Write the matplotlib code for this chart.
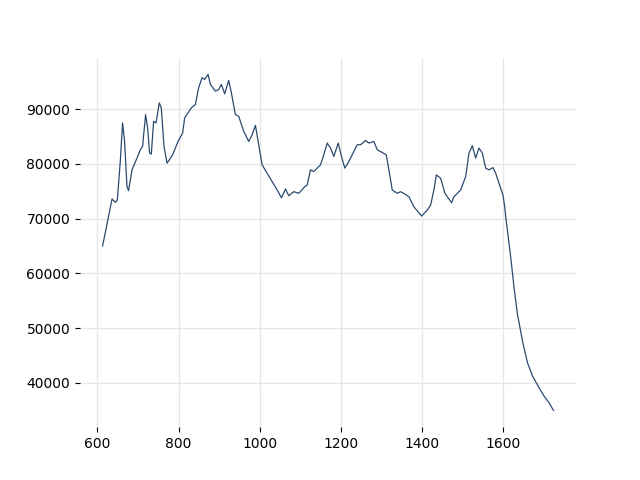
import matplotlib
matplotlib.use("Agg")
import matplotlib.pyplot as plt

wavelength = [612.6, 619, 636, 644, 649, 656.3, 661.9, 666.9, 672.8, 676.7,
              685.1, 697.4, 705.6, 711.2, 718.6, 723.6, 728.5, 732.7, 738.4, 744.3,
              752.4, 757.3, 764, 771.4, 777.1, 785.2, 798.5, 809.9, 814.8, 831.3,
              841.2, 849.3, 857.7, 864.1, 872.5, 878.2, 890.5, 898.6, 905.3, 913.4,
              923.3, 929.9, 939.8, 947.9, 960.3, 972.6, 981, 989.1, 995.8, 1005.6,
              1018, 1030.3, 1042.6, 1053.2, 1063.1, 1071.2, 1083.5, 1095.9, 1110.7, 1116.6,
              1124.7, 1132.8, 1149.4, 1157.5, 1165.9, 1174, 1182.2, 1193, 1201.1, 1209.3,
              1219.1, 1231.5, 1239.8, 1248, 1260.3, 1268.4, 1280.8, 1289.1, 1301.5, 1311.3,
              1317.8, 1326.1, 1338.5, 1346.6, 1357.2, 1367.1, 1379.4, 1398.4, 1412.4, 1420.6,
              1428.7, 1434.6, 1445.2, 1455.8, 1472.3, 1478, 1494.5, 1506.9, 1515, 1523.4,
              1531.5, 1539.7, 1548, 1556.2, 1564.3, 1574.2, 1580.8, 1589, 1598.8, 1603,
              1605.5, 1609.7, 1617.8, 1626, 1634.3, 1646.7, 1659, 1671.3, 1687.6, 1699.9,
              1712.3, 1723.1]
intensity = [65000, 67300, 73600, 72970, 73400, 80420, 87470, 84090, 75830, 75100,
             78900, 81045, 82570, 83170, 88990, 86550, 81960, 81780, 87760, 87470,
             91140, 90220, 83170, 80130, 80730, 81650, 84090, 85630, 88390, 90220,
             90830, 93890, 95725, 95410, 96330, 94500, 93270, 93580, 94500, 92790,
             95230, 92970, 88990, 88680, 85930, 84090, 85320, 87030, 84090, 79820,
             78290, 76750, 75230, 73810, 75410, 74180, 74920, 74620, 75830, 76150,
             78900, 78590, 79820, 81650, 83800, 82880, 81340, 83800, 81340, 79210,
             80420, 82260, 83490, 83490, 84270, 83800, 84090, 82570, 82070, 81650,
             78900, 75230, 74620, 74920, 74490, 74000, 72160, 70460, 71560, 72480,
             75230, 77980, 77380, 74620, 72900, 74000, 75230, 77670, 81960, 83300,
             81050, 82880, 81960, 79210, 78900, 79320, 78290, 76460, 74310, 72160,
             70330, 67890, 62990, 57480, 52600, 47700, 43720, 41280, 39130, 37610,
             36380, 34990]

fig, ax = plt.subplots(figsize=(6.4, 4.8), dpi=100)
ax.plot(wavelength, intensity, color="#2c4a6e", linewidth=0.9)
ax.grid(True, color="#e6e6e6", linewidth=1)
ax.set_axisbelow(True)
for s in ax.spines.values():
    s.set_visible(False)
ax.set_xticks([600, 800, 1000, 1200, 1400, 1600])
ax.set_yticks([40000, 50000, 60000, 70000, 80000, 90000])
fig.savefig("out.png", dpi=100)
